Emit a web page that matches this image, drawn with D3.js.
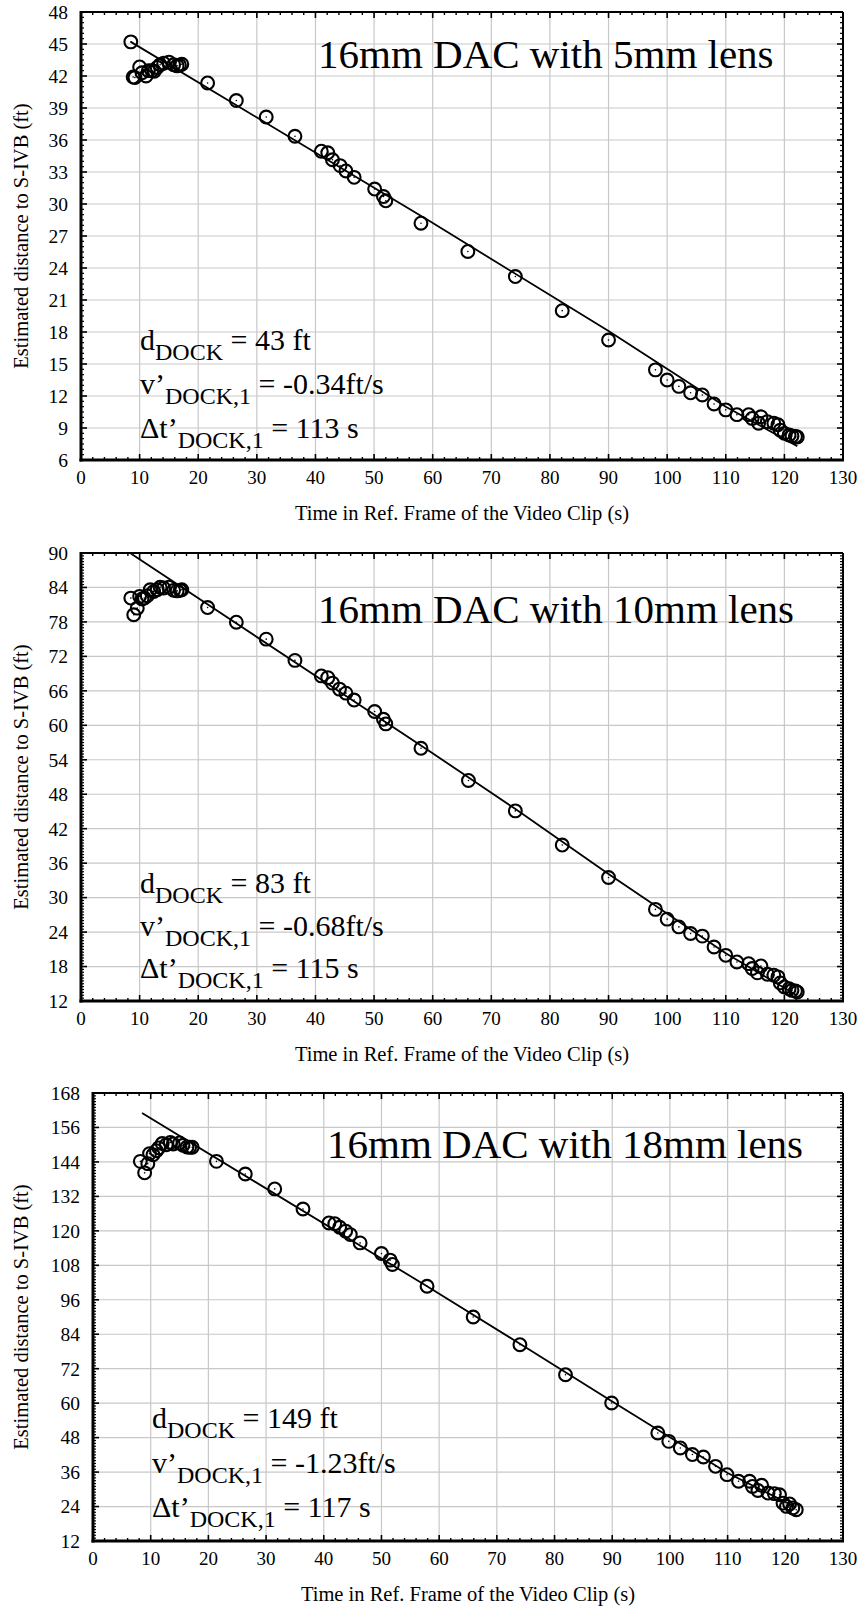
<!DOCTYPE html>
<html><head><meta charset="utf-8">
<script src="https://cdn.jsdelivr.net/npm/d3@7"></script>
<style>body{margin:0;background:#fff}svg{display:block}</style>
</head><body><svg id="c" width="863" height="1606"></svg>
<script>
// ---------- DATA ----------
const timeTicks = [0,10,20,30,40,50,60,70,80,90,100,110,120,130];
const xAxisTitle = "Time in Ref. Frame of the Video Clip (s)";
const yAxisTitle = "Estimated distance to S-IVB (ft)";

// Panel 1: 5mm lens
const time5 = [8.5,8.9,9.2,10.0,10.4,11.1,11.5,12.1,12.5,13.0,13.5,14.1,15.0,15.8,16.4,16.8,17.2,21.6,26.5,31.6,36.5,41.0,42.1,42.9,44.2,45.2,46.6,50.1,51.6,52.0,58.0,66.0,74.1,82.1,90.0,98.0,100.0,102.0,104.0,106.0,108.0,110.0,111.9,113.9,114.5,115.6,116.0,117.1,118.2,118.9,119.3,120.0,120.8,121.3,121.9,122.2];
const dist5 = [45.2,41.9,41.85,42.85,42.3,42.0,42.5,42.5,42.45,42.8,43.05,43.2,43.3,43.05,42.95,43.0,43.1,41.35,39.7,38.15,36.35,34.95,34.8,34.15,33.6,33.1,32.5,31.4,30.7,30.3,28.2,25.55,23.2,20.0,17.25,14.45,13.5,12.9,12.3,12.1,11.25,10.7,10.25,10.25,9.9,9.45,10.05,9.6,9.45,9.3,8.8,8.5,8.35,8.25,8.2,8.15];
const fitTime5 = [8.5,59.6,90,110,122.2];
const fitDist5 = [45.2,28.35,18.1,11.0,7.3];
const distTicks5 = [6,9,12,15,18,21,24,27,30,33,36,39,42,45,48];
const title5 = "16mm DAC with 5mm lens";
const ann5 = ["43 ft","-0.34ft/s","113 s"];

// Panel 2: 10mm lens
const time10 = [8.5,9.0,9.6,10.0,10.4,10.8,11.3,11.8,12.4,13.0,13.5,14.1,15.0,15.8,16.4,16.9,17.2,21.6,26.5,31.6,36.5,41.0,42.1,42.9,44.1,45.2,46.6,50.1,51.6,52.0,58.0,66.1,74.1,82.1,90.0,98.0,100.0,102.0,104.0,106.0,108.0,110.0,111.9,113.9,114.5,115.4,116.0,117.1,118.2,118.9,119.3,120.0,120.8,121.3,121.9,122.2];
const dist10 = [82.15,79.25,80.4,82.45,82.0,82.15,82.55,83.6,83.3,83.6,84.05,83.9,84.05,83.5,83.4,83.5,83.6,80.5,77.95,75.0,71.3,68.6,68.3,67.35,66.3,65.6,64.4,62.4,61.05,60.25,56.0,50.4,45.1,39.15,33.5,27.95,26.25,24.9,23.75,23.3,21.4,19.95,18.8,18.5,17.65,16.9,18.1,16.65,16.5,16.2,15.15,14.45,14.15,13.85,13.75,13.55];
const fitTime10 = [8.5,59.6,74,90,110,122.1];
const fitDist10 = [89.9,55.4,45.5,34.1,20.3,13.0];
const distTicks10 = [12,18,24,30,36,42,48,54,60,66,72,78,84,90];
const title10 = "16mm DAC with 10mm lens";
const ann10 = ["83 ft","-0.68ft/s","115 s"];

// Panel 3: 18mm lens
const time18 = [8.2,8.95,9.5,9.8,10.4,11.0,11.4,12.0,12.7,13.4,13.9,15.0,15.6,16.3,16.75,17.2,21.4,26.4,31.5,36.4,40.9,41.9,42.75,43.8,44.6,46.3,50.0,51.5,51.9,57.9,65.9,74.0,81.9,89.9,97.9,99.8,101.8,103.9,105.8,107.9,109.9,111.9,113.8,114.3,115.25,115.9,117.0,118.1,119.0,119.6,120.2,120.75,121.3,121.9];
const dist18 = [144.2,140.2,143.4,146.9,146.5,147.9,148.9,150.4,150.0,150.8,150.25,150.6,149.8,149.2,149.1,149.1,144.2,139.8,134.6,127.6,122.75,122.5,121.25,119.9,118.7,115.8,112.1,109.8,108.3,100.7,90.0,80.35,69.9,60.05,49.6,46.7,44.4,42.1,41.25,38.0,35.1,32.8,32.8,31.0,29.6,31.4,28.7,28.5,28.1,25.2,24.05,24.9,23.5,22.9];
const fitTime18 = [8.5,57.9,74,90,110,121.8];
const fitDist18 = [161.0,100.7,80.7,60.6,35.7,23.8];
const distTicks18 = [12,24,36,48,60,72,84,96,108,120,132,144,156,168];
const title18 = "16mm DAC with 18mm lens";
const ann18 = ["149 ft","-1.23ft/s","117 s"];

// ---------- LAYOUT ----------
const panels = [
  {t:time5,d:dist5,ft:fitTime5,fd:fitDist5,yt:distTicks5,title:title5,ann:ann5,yMinor:0.5,
   left:81,right:843,top:12,bottom:460,titleX:318,titleY:68,annX:140,annY:[350,394,438]},
  {t:time10,d:dist10,ft:fitTime10,fd:fitDist10,yt:distTicks10,title:title10,ann:ann10,yMinor:0.5,
   left:81,right:843,top:553,bottom:1001,titleX:318,titleY:623,annX:140,annY:[893,936,978]},
  {t:time18,d:dist18,ft:fitTime18,fd:fitDist18,yt:distTicks18,title:title18,ann:ann18,yMinor:1,
   left:93,right:843,top:1093,bottom:1541,titleX:327,titleY:1158,annX:152,annY:[1428,1473,1517]}
];

const FONT = "'Liberation Serif','Times New Roman',Times,serif";
const svg = d3.select("#c");

panels.forEach(p => {
  const g = svg.append("g");
  const x = d3.scaleLinear().domain([timeTicks[0], timeTicks[timeTicks.length-1]]).range([p.left,p.right]);
  const y = d3.scaleLinear().domain([p.yt[0], p.yt[p.yt.length-1]]).range([p.bottom,p.top]);
  const [y0,y1] = y.domain();

  // grid
  g.append("g").selectAll("line").data(timeTicks.slice(1,-1)).join("line")
    .attr("x1",d=>x(d)).attr("x2",d=>x(d)).attr("y1",p.top).attr("y2",p.bottom)
    .attr("stroke","#c8c8c8").attr("stroke-width",1.2);
  g.append("g").selectAll("line").data(p.yt.slice(1,-1)).join("line")
    .attr("y1",d=>y(d)).attr("y2",d=>y(d)).attr("x1",p.left).attr("x2",p.right)
    .attr("stroke","#c8c8c8").attr("stroke-width",1.2);

  // ticks (inward, all sides)
  const xMinor = d3.range(timeTicks[0], timeTicks[timeTicks.length-1]+0.001, 2).filter(v=>v%10!==0);
  const yStep = p.yt[1]-p.yt[0];
  const yMinor = d3.range(y0, y1+0.001, p.yMinor).filter(v=>Math.abs(((v-y0)/yStep)-Math.round((v-y0)/yStep))>1e-6);
  const tk = g.append("g").attr("stroke","#000");
  const addX = (vals,len,w) => {
    vals.forEach(v=>{
      tk.append("line").attr("x1",x(v)).attr("x2",x(v)).attr("y1",p.bottom).attr("y2",p.bottom-len).attr("stroke-width",w);
      tk.append("line").attr("x1",x(v)).attr("x2",x(v)).attr("y1",p.top).attr("y2",p.top+len).attr("stroke-width",w);
    });
  };
  const addY = (vals,len,w) => {
    vals.forEach(v=>{
      tk.append("line").attr("y1",y(v)).attr("y2",y(v)).attr("x1",p.left).attr("x2",p.left+len).attr("stroke-width",w);
      tk.append("line").attr("y1",y(v)).attr("y2",y(v)).attr("x1",p.right).attr("x2",p.right-len).attr("stroke-width",w);
    });
  };
  addX(timeTicks,6,1.6); addX(xMinor,3,1.4);
  addY(p.yt,6,1.6); addY(yMinor,3,1.2);

  // fit line
  const line = d3.line().x(d=>x(d[0])).y(d=>y(d[1]));
  g.append("path").datum(p.ft.map((v,i)=>[v,p.fd[i]])).attr("d",line)
    .attr("fill","none").attr("stroke","#000").attr("stroke-width",1.8);

  // markers
  const pts = p.t.map((v,i)=>[v,p.d[i]]);
  g.append("g").selectAll("circle").data(pts).join("circle")
    .attr("cx",d=>x(d[0])).attr("cy",d=>y(d[1])).attr("r",6.4)
    .attr("fill","none").attr("stroke","#000").attr("stroke-width",2.1);
  g.append("g").selectAll("circle").data(pts).join("circle")
    .attr("cx",d=>x(d[0])).attr("cy",d=>y(d[1])).attr("r",0.8).attr("fill","#000");

  // frame
  g.append("line").attr("x1",p.left).attr("x2",p.right).attr("y1",p.top).attr("y2",p.top).attr("stroke","#000").attr("stroke-width",2);
  g.append("line").attr("x1",p.right).attr("x2",p.right).attr("y1",p.top).attr("y2",p.bottom).attr("stroke","#000").attr("stroke-width",2);
  g.append("line").attr("x1",p.left).attr("x2",p.left).attr("y1",p.top-1).attr("y2",p.bottom+1.5).attr("stroke","#000").attr("stroke-width",3);
  g.append("line").attr("x1",p.left-1.5).attr("x2",p.right+1).attr("y1",p.bottom).attr("y2",p.bottom).attr("stroke","#000").attr("stroke-width",3);

  // tick labels
  g.append("g").selectAll("text").data(timeTicks).join("text")
    .attr("x",d=>x(d)).attr("y",p.bottom+24).attr("text-anchor","middle")
    .attr("font-family",FONT).attr("font-size",19).text(d=>d);
  g.append("g").selectAll("text").data(p.yt).join("text")
    .attr("x",p.left-13).attr("y",d=>y(d)).attr("dy","0.35em").attr("text-anchor","end")
    .attr("font-family",FONT).attr("font-size",19.5).text(d=>d);

  // axis titles
  g.append("text").attr("x",(p.left+p.right)/2).attr("y",p.bottom+60).attr("text-anchor","middle")
    .attr("font-family",FONT).attr("font-size",20.5).text(xAxisTitle);
  g.append("text").attr("transform",`translate(28,${(p.top+p.bottom)/2}) rotate(-90)`)
    .attr("text-anchor","middle").attr("font-family",FONT).attr("font-size",20.5).text(yAxisTitle);

  // title
  g.append("text").attr("x",p.titleX).attr("y",p.titleY).attr("font-family",FONT).attr("font-size",41).text(p.title);

  // annotations
  const prefixes = ["d","v\u2019","\u0394t\u2019"];
  const subs = ["DOCK","DOCK,1","DOCK,1"];
  prefixes.forEach((pre,i)=>{
    const t = g.append("text").attr("x",p.annX).attr("y",p.annY[i]).attr("font-family",FONT).attr("font-size",30);
    t.append("tspan").text(pre);
    t.append("tspan").attr("font-size",24).attr("dy",10).text(subs[i]);
    t.append("tspan").attr("dy",-10).text(" = " + p.ann[i]);
  });
});
</script>
</body></html>
